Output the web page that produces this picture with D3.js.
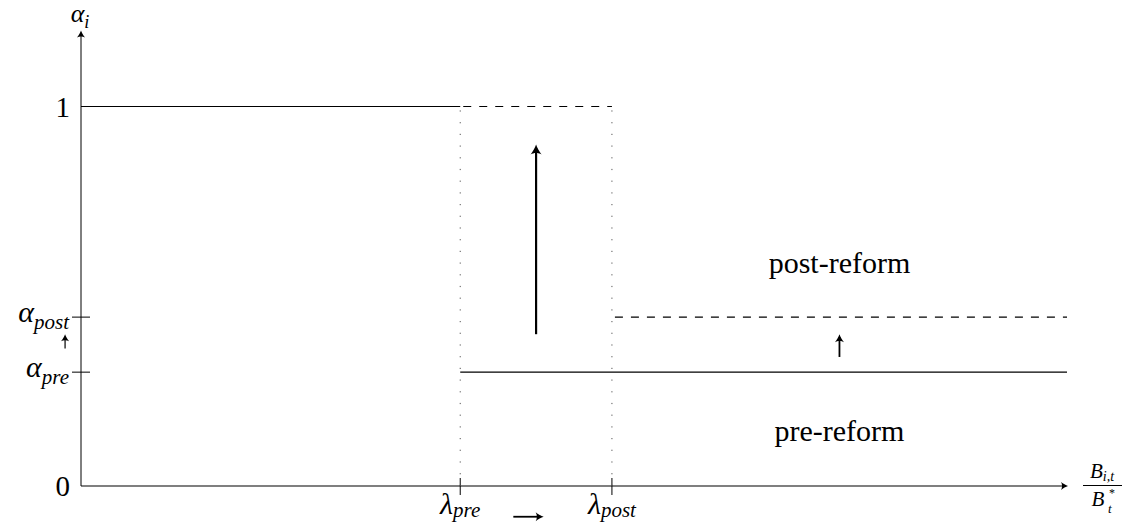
<!DOCTYPE html>
<html><head><meta charset="utf-8">
<script src="https://cdn.jsdelivr.net/npm/d3@7"></script>
<style>
body{margin:0;background:#fff} svg{display:block}
text{font-family:"Liberation Serif","DejaVu Serif","Noto Serif",serif;}
</style>
</head><body><svg id="c" width="1128" height="529"></svg>
<script>
// ---------- data ----------
const xMax = 13;          // right end of the horizontal axis (units of B_{i,t}/B*_t)
const yMax = 1.2;         // top of the vertical axis (alpha_i)
const lambdaPre = 5, lambdaPost = 7;
const alphaPre = 0.30, alphaPost = 0.445;
const xTickValues = [lambdaPre, lambdaPost];
const xTickSubs = ["pre", "post"];
const yTickValues = [alphaPre, alphaPost];
const yTickSubs = ["pre", "post"];
const yPlainTicks = [0, 1];
const yPlainLabels = ["0", "1"];
const solidSegments = [[[0, 1], [lambdaPre, 1]], [[lambdaPre, alphaPre], [xMax, alphaPre]]];
const dashedSegments = [[[lambdaPre, 1], [lambdaPost, 1]], [[lambdaPost, alphaPost], [xMax, alphaPost]]];
const dottedVerticals = [lambdaPre, lambdaPost];
const arrowFrom = [[6, 0.40], [10, 0.34], [-0.21, 0.362], [5.7, -0.081]];
const arrowTo   = [[6, 0.90], [10, 0.40], [-0.21, 0.40],  [6.1, -0.081]];
const regionLabels = ["post-reform", "pre-reform"];
const regionX = [10, 10];
const regionY = [0.561, 0.119];

// ---------- scales ----------
const x = d3.scaleLinear().domain([0, xMax]).range([81, 1067]);
const y = d3.scaleLinear().domain([0, 1]).range([486, 106.5]);

const svg = d3.select("#c");

function head(g, tip, angle, len, wid, col) {
  const p = `M0,0 C${-len*0.3},${-wid*0.2} ${-len*0.7},${-wid*0.55} ${-len},${-wid} C${-len*0.8},${-wid*0.45} ${-len*0.8},${wid*0.45} ${-len},${wid} C${-len*0.7},${wid*0.55} ${-len*0.3},${wid*0.2} 0,0Z`;
  g.append("path").attr("d", p).attr("fill", col)
    .attr("transform", `translate(${tip[0]},${tip[1]}) rotate(${angle})`);
}

// ---------- axes ----------
const ax = svg.append("g");
ax.append("line").attr("x1", x(0)).attr("y1", y(0)).attr("x2", x(0)).attr("y2", y(yMax) + 2)
  .attr("stroke", "#000").attr("stroke-width", 1);
head(ax, [x(0), y(yMax)], -90, 7, 4, "#000");
ax.append("line").attr("x1", x(0)).attr("y1", y(0)).attr("x2", x(xMax) - 1).attr("y2", y(0))
  .attr("stroke", "#000").attr("stroke-width", 1.1);
head(ax, [x(xMax) + 1, y(0)], 0, 7, 4, "#000");

ax.selectAll(".yt").data(yTickValues).join("line")
  .attr("x1", x(0) - 9).attr("x2", x(0) + 9)
  .attr("y1", d => y(d)).attr("y2", d => y(d))
  .attr("stroke", "#000").attr("stroke-width", 1);
ax.selectAll(".xt").data(xTickValues).join("line")
  .attr("x1", d => x(d)).attr("x2", d => x(d))
  .attr("y1", y(0) - 8).attr("y2", y(0) + 9)
  .attr("stroke", "#000").attr("stroke-width", 1);

function math(sel, main, sub, size, subDy) {
  sel.append("tspan").attr("font-style", "italic").attr("font-size", size).text(main);
  sel.append("tspan").attr("font-style", "italic").attr("font-size", size * 0.7)
    .attr("dy", subDy == null ? size * 0.22 : subDy).text(sub);
}
yTickValues.forEach((v, i) => {
  const t = svg.append("text").attr("x", 69).attr("y", y(v) + 5)
    .attr("text-anchor", "end");
  math(t, "α", yTickSubs[i], 30);
});
yPlainTicks.forEach((v, i) => {
  svg.append("text").attr("x", 70).attr("y", y(v) + 10).attr("text-anchor", "end")
    .attr("font-size", 29).text(yPlainLabels[i]);
});
xTickValues.forEach((v, i) => {
  const t = svg.append("text").attr("x", x(v)).attr("y", y(0) + 28)
    .attr("text-anchor", "middle");
  math(t, "λ", xTickSubs[i], 30, 3);
});
{
  const t = svg.append("text").attr("x", 80).attr("y", 22)
    .attr("text-anchor", "middle");
  math(t, "α", "i", 26);
}
{
  const fx = 1102;
  const n = svg.append("text").attr("x", fx).attr("y", 478).attr("text-anchor", "middle");
  n.append("tspan").attr("font-style", "italic").attr("font-size", 21).text("B");
  n.append("tspan").attr("font-style", "italic").attr("font-size", 14).attr("dy", 3).text("i,t");
  svg.append("line").attr("x1", fx - 19).attr("x2", fx + 20).attr("y1", 485.5).attr("y2", 485.5)
    .attr("stroke", "#000").attr("stroke-width", 1);
  svg.append("text").attr("x", fx - 4).attr("y", 506).attr("text-anchor", "middle")
    .attr("font-style", "italic").attr("font-size", 21).text("B");
  svg.append("text").attr("x", fx + 7).attr("y", 497).attr("text-anchor", "start")
    .attr("font-size", 12).text("*");
  svg.append("text").attr("x", fx + 6).attr("y", 513).attr("text-anchor", "start")
    .attr("font-style", "italic").attr("font-size", 13).text("t");
}

const line = d3.line().x(d => x(d[0])).y(d => y(d[1]));
svg.append("g").selectAll("path").data(dottedVerticals).join("path")
  .attr("d", d => line([[d, 0], [d, 1]]))
  .attr("stroke", "#555").attr("stroke-width", 1).attr("stroke-dasharray", "1.2,10.5").attr("fill", "none");
svg.append("g").selectAll("path").data(solidSegments).join("path")
  .attr("d", line).attr("stroke", "#000").attr("stroke-width", 1.2).attr("fill", "none");
svg.append("g").selectAll("path").data(dashedSegments).join("path")
  .attr("d", line).attr("stroke", "#000").attr("stroke-width", 1.1)
  .attr("stroke-dasharray", "8,8").attr("stroke-dashoffset", -3).attr("fill", "none");

const ag = svg.append("g");
arrowFrom.forEach((f, i) => {
  const t = arrowTo[i];
  const p0 = [x(f[0]), y(f[1])], p1 = [x(t[0]), y(t[1])];
  const ang = Math.atan2(p1[1] - p0[1], p1[0] - p0[0]) * 180 / Math.PI;
  const big = i === 0;
  const w = big ? 2.2 : (i === 2 ? 1.2 : 1.8);
  const dx = Math.cos(ang * Math.PI / 180), dy = Math.sin(ang * Math.PI / 180);
  const back = big ? 4 : 3;
  ag.append("line").attr("x1", p0[0]).attr("y1", p0[1])
    .attr("x2", p1[0] - dx * back).attr("y2", p1[1] - dy * back)
    .attr("stroke", "#000").attr("stroke-width", w);
  head(ag, p1, ang, big ? 10 : (i === 2 ? 7 : 8), big ? 5.5 : (i === 2 ? 4 : 4.5), "#000");
});

svg.append("g").selectAll("text").data(regionLabels).join("text")
  .attr("x", (d, i) => x(regionX[i])).attr("y", (d, i) => y(regionY[i]))
  .attr("text-anchor", "middle").attr("font-size", 30)
  .text(d => d);
</script></body></html>
